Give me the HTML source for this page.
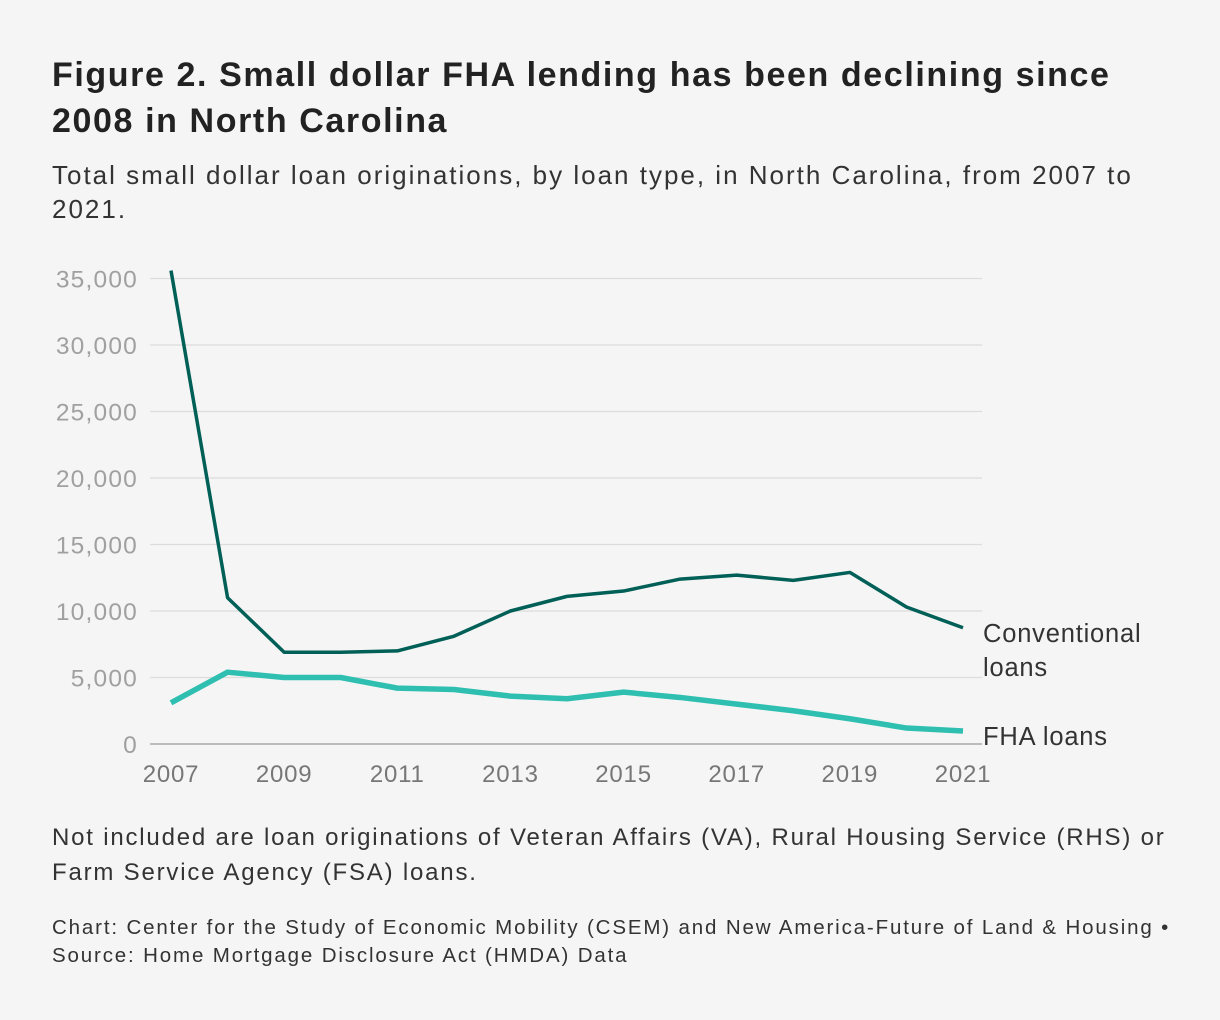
<!DOCTYPE html>
<html><head><meta charset="utf-8"><style>
body{margin:0;background:#f5f5f5;font-family:"Liberation Sans",sans-serif;}
#wrap{position:relative;width:1220px;height:1020px;overflow:hidden;}
h1{position:absolute;left:52px;top:52px;margin:0;font-size:34px;line-height:46px;font-weight:bold;color:#222;width:1160px;letter-spacing:1.6px;white-space:nowrap;}
.sub{position:absolute;left:52px;top:158px;font-size:26px;line-height:34px;color:#333;width:1160px;letter-spacing:2px;white-space:nowrap;}
.note{position:absolute;left:52px;top:820px;font-size:24px;line-height:35px;color:#333;width:1160px;letter-spacing:1.8px;white-space:nowrap;}
.src{position:absolute;left:52px;top:914px;font-size:20.5px;line-height:28px;color:#333;width:1160px;letter-spacing:1.85px;white-space:nowrap;}
svg{position:absolute;left:0;top:0;}
</style></head><body><div id="wrap">
<h1>Figure 2. Small dollar FHA lending has been declining since<br>2008 in North Carolina</h1>
<div class="sub">Total small dollar loan originations, by loan type, in North Carolina, from 2007 to<br>2021.</div>
<svg id="chart" width="1220" height="1020"></svg>
<div class="note">Not included are loan originations of Veteran Affairs (VA), Rural Housing Service (RHS) or<br>Farm Service Agency (FSA) loans.</div>
<div class="src">Chart: Center for the Study of Economic Mobility (CSEM) and New America-Future of Land &amp; Housing •<br>Source: Home Mortgage Disclosure Act (HMDA) Data</div>
</div>
<script>
const years=[2007,2008,2009,2010,2011,2012,2013,2014,2015,2016,2017,2018,2019,2020,2021];
const conventional=[35600,11000,6900,6900,7000,8100,10000,11100,11500,12400,12700,12300,12900,10300,8740];
const fha=[3100,5400,5000,5000,4200,4100,3600,3400,3900,3500,3000,2500,1900,1200,980];
const yTicks=[0,5000,10000,15000,20000,25000,30000,35000];
const xTickLabels=[2007,2009,2011,2013,2015,2017,2019,2021];
const NS="http://www.w3.org/2000/svg";
const svg=document.getElementById('chart');
const x=v=>171+(v-2007)*(963-171)/14;
const y=v=>744-v*(744-278.5)/35000;
function mk(t,a){const e=document.createElementNS(NS,t);for(const k in a)e.setAttribute(k,a[k]);svg.appendChild(e);return e;}
yTicks.forEach(t=>{
 const l=mk('line',{x1:150,x2:982,y1:y(t),y2:y(t),stroke:t===0?'#aaa':'#dcdcdc','stroke-width':t===0?1.5:1.2});
 
 
 const tx=mk('text',{x:138,y:y(t)+9,'text-anchor':'end','font-size':24.5,'letter-spacing':1.2,fill:'#a0a0a0','font-family':'Liberation Sans, sans-serif'});
 tx.textContent=t.toLocaleString('en-US');
 
 
});
xTickLabels.forEach(t=>{
 const tx=mk('text',{x:x(t),y:782,'text-anchor':'middle','font-size':24,'letter-spacing':0.8,fill:'#777','font-family':'Liberation Sans, sans-serif'});
 tx.textContent=t;
 
 
});
function line(d,c,w,n){
 const p=mk('polyline',{points:d.map((v,i)=>x(years[i])+','+y(v)).join(' '),fill:'none',stroke:c,'stroke-width':w,'stroke-linejoin':'round'});
 
 
}
line(conventional,'#005f56',3.5,'conventional-line');
line(fha,'#2fbfb0',5.5,'fha-line');
function lab(lines,yy,n){
 const t=mk('text',{x:983,y:yy,'font-size':25.5,'letter-spacing':0.8,fill:'#333','font-family':'Liberation Sans, sans-serif'});
 lines.forEach((s,i)=>{const ts=document.createElementNS(NS,'tspan');ts.setAttribute('x',983);ts.setAttribute('dy',i?34:0);ts.textContent=s;t.appendChild(ts);});
 
 
}
lab(['Conventional','loans'],y(conventional[14])+14,'legend-conventional');
lab(['FHA loans'],y(fha[14])+14,'legend-fha');
</script></body></html>
